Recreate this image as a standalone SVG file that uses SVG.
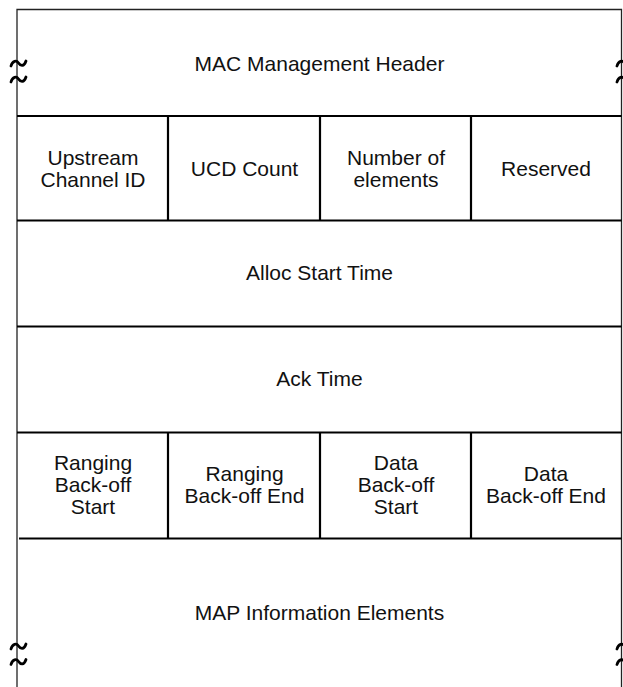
<svg xmlns="http://www.w3.org/2000/svg" width="623" height="687" viewBox="0 0 623 687">
<defs>
<style>
.t{font-family:"Liberation Sans",Arial,sans-serif;font-size:21px;fill:#111;text-anchor:middle}
.outer{stroke:#222;stroke-width:1.3;fill:none}
.inner{stroke:#000;stroke-width:2.2;fill:none}
.brk{stroke:#000;stroke-width:2.8;fill:none;stroke-linecap:round}
</style>
<path id="tilde" d="M-7.5 2.5 C-6 -3,-2 -3.5,0 -0.5 S5.5 3.5,7.5 -2.5"/>
</defs>
<rect width="623" height="687" fill="#fff"/>
<g id="grid">
<path class="outer" d="M17 687 V9.5 H621.5 V687"/>
<path class="inner" d="M17 116 H621.5 M17 220.5 H621.5 M17 326.5 H621.5 M17 432.5 H621.5 M19 538.5 H621.5"/>
<path class="inner" d="M168 116 V220.5 M320 116 V220.5 M471 116 V220.5 M168 432.5 V538.5 M320 432.5 V538.5 M471 432.5 V538.5"/>
</g>
<g id="breaks" class="brk">
<use href="#tilde" x="18.5" y="63.5"/>
<use href="#tilde" x="18.5" y="79.5"/>
<use href="#tilde" x="18.5" y="646.5"/>
<use href="#tilde" x="18.5" y="662"/>
<use href="#tilde" x="624.5" y="63.5"/>
<use href="#tilde" x="624.5" y="79.5"/>
<use href="#tilde" x="624.5" y="646.5"/>
<use href="#tilde" x="624.5" y="662"/>
</g>
<g id="mac-header"><text class="t" x="319.5" y="71">MAC Management Header</text></g>
<g id="upstream-channel-id"><text class="t" x="93" y="164.5">Upstream<tspan x="93" dy="22">Channel ID</tspan></text></g>
<g id="ucd-count"><text class="t" x="244.5" y="175.5">UCD Count</text></g>
<g id="number-of-elements"><text class="t" x="396" y="164.5">Number of<tspan x="396" dy="22">elements</tspan></text></g>
<g id="reserved"><text class="t" x="546" y="175.5">Reserved</text></g>
<g id="alloc-start-time"><text class="t" x="319.5" y="280">Alloc Start Time</text></g>
<g id="ack-time"><text class="t" x="319.5" y="386">Ack Time</text></g>
<g id="ranging-backoff-start"><text class="t" x="93" y="470">Ranging<tspan x="93" dy="22">Back-off</tspan><tspan x="93" dy="22">Start</tspan></text></g>
<g id="ranging-backoff-end"><text class="t" x="244.5" y="481">Ranging<tspan x="244.5" dy="22">Back-off End</tspan></text></g>
<g id="data-backoff-start"><text class="t" x="396" y="470">Data<tspan x="396" dy="22">Back-off</tspan><tspan x="396" dy="22">Start</tspan></text></g>
<g id="data-backoff-end"><text class="t" x="546" y="481">Data<tspan x="546" dy="22">Back-off End</tspan></text></g>
<g id="map-information-elements"><text class="t" x="319.5" y="620">MAP Information Elements</text></g>
</svg>
